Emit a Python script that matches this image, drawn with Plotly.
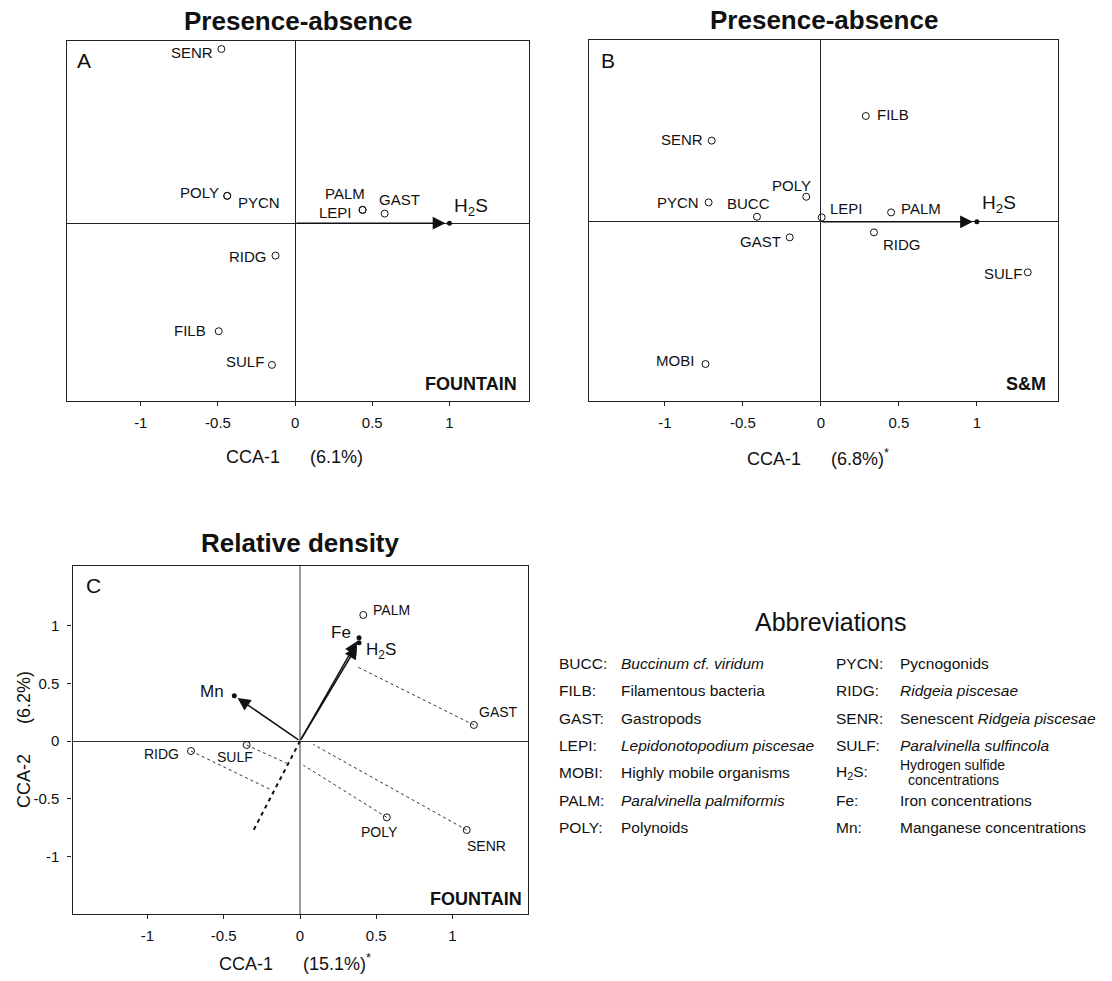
import plotly.graph_objects as go

W, H = 1112, 981
FONT = "Liberation Sans, Arial, Helvetica, sans-serif"
INK = "#111111"

# ---------------- data ----------------
tick_vals = [-1, -0.5, 0, 0.5, 1]
tick_text = ["-1", "-0.5", "0", "0.5", "1"]

# Panel A : presence-absence, FOUNTAIN
A_species = ["SENR", "POLY", "PYCN", "PALM", "LEPI", "GAST", "RIDG", "FILB", "SULF"]
A_x = [-0.478, -0.44, -0.44, 0.437, 0.437, 0.58, -0.127, -0.495, -0.15]
A_y = [1.128, 0.177, 0.177, 0.086, 0.086, 0.062, -0.21, -0.70, -0.918]
A_env = ["H2S"]
A_env_x = [1.0]
A_env_y = [0.0]

# Panel B : presence-absence, S&M
B_species = ["FILB", "SENR", "POLY", "PYCN", "BUCC", "LEPI", "PALM", "GAST", "RIDG", "SULF", "MOBI"]
B_x = [0.288, -0.70, -0.094, -0.72, -0.41, 0.005, 0.45, -0.20, 0.34, 1.326, -0.74]
B_y = [0.678, 0.52, 0.16, 0.124, 0.032, 0.028, 0.06, -0.10, -0.068, -0.324, -0.912]
B_env = ["H2S"]
B_env_x = [1.0]
B_env_y = [0.0]

# Panel C : relative density, FOUNTAIN
C_species = ["PALM", "GAST", "POLY", "SENR", "RIDG", "SULF"]
C_x = [0.415, 1.14, 0.569, 1.093, -0.715, -0.35]
C_y = [1.093, 0.139, -0.662, -0.772, -0.087, -0.035]
C_env = ["Fe", "H2S", "Mn"]
C_env_x = [0.387, 0.387, -0.431]
C_env_y = [0.896, 0.853, 0.393]
# projections of species onto the H2S axis (dashed)
C_proj_from = ["GAST", "SENR", "POLY", "SULF", "RIDG"]
C_proj_x = [0.374, 0.087, 0.022, -0.087, -0.197]
C_proj_y = [0.644, -0.03, -0.21, -0.193, -0.419]
# backward extension of the H2S axis
C_ext_x = [0.0, -0.307]
C_ext_y = [0.0, -0.779]

# Abbreviation table
abbr_left_keys = ["BUCC:", "FILB:", "GAST:", "LEPI:", "MOBI:", "PALM:", "POLY:"]
abbr_left_desc = ["<i>Buccinum cf. viridum</i>", "Filamentous bacteria", "Gastropods",
                  "<i>Lepidonotopodium piscesae</i>", "Highly mobile organisms",
                  "<i>Paralvinella palmiformis</i>", "Polynoids"]
abbr_right_keys = ["PYCN:", "RIDG:", "SENR:", "SULF:", "H<sub>2</sub>S:", "Fe:", "Mn:"]
abbr_right_desc = ["Pycnogonids", "<i>Ridgeia piscesae</i>", "Senescent <i>Ridgeia piscesae</i>",
                   "<i>Paralvinella sulfincola</i>", "Hydrogen sulfide", "Iron concentrations",
                   "Manganese concentrations"]
abbr_right_desc2 = ["", "", "", "", "concentrations", "", ""]

label_map = {"H2S": "H<sub>2</sub>S"}

# ---------------- styling / positions (pixels) ----------------
def px(x):
    return x / W

def py(y):
    return 1 - y / H

A_off = {"SENR": ("right", -6, -3), "POLY": ("right", -6, 3.5), "PYCN": ("left", 9, -6.5),
         "PALM": ("center", -18, 16), "LEPI": ("right", -9, -2.5), "GAST": ("left", -8, 13.7),
         "RIDG": ("right", -7, -1), "FILB": ("right", -11, 1), "SULF": ("right", -6, 3.3)}
A_env_off = {"H2S": ("left", 3, 16)}
B_off = {"FILB": ("left", 9, 1), "SENR": ("right", -7, 0.7), "POLY": ("center", -15, 11.7),
         "PYCN": ("right", -8, 0), "BUCC": ("center", -8.6, 13), "LEPI": ("left", 6.6, 9),
         "PALM": ("left", 8, 4), "GAST": ("right", -7, -4.4), "RIDG": ("left", 7, -11.7),
         "SULF": ("right", -4, -1), "MOBI": ("right", -10, 4)}
B_env_off = {"H2S": ("left", 3.6, 17.7)}
C_off = {"PALM": ("left", 8, 5), "GAST": ("left", 3, 13.3), "POLY": ("center", -7, -14.7),
         "SENR": ("left", -2, -15.8), "RIDG": ("right", -10, -3.3), "SULF": ("center", -12, -11.7)}
C_env_off = {"Fe": ("right", -6, 4.7), "H2S": ("left", 5, -8.3), "Mn": ("right", -8, 4)}

fig = go.Figure()


def add_points(xs, ys, xa, ya):
    fig.add_trace(go.Scatter(x=xs, y=ys, mode="markers", xaxis=xa, yaxis=ya,
                             marker=dict(symbol="circle-open", size=7, color=INK,
                                         line=dict(width=1, color=INK)),
                             hoverinfo="skip"))


def add_env(xs, ys, xa, ya):
    fig.add_trace(go.Scatter(x=xs, y=ys, mode="markers", xaxis=xa, yaxis=ya,
                             marker=dict(symbol="circle", size=5, color=INK),
                             hoverinfo="skip"))
    for ex, ey in zip(xs, ys):
        fig.add_annotation(x=ex, y=ey, ax=0, ay=0, xref=xa, yref=ya, axref=xa, ayref=ya,
                           text="", showarrow=True, arrowhead=2, arrowsize=1.7,
                           arrowwidth=1.5, arrowcolor=INK, standoff=4)


def add_labels(names, xs, ys, offs, xr, yr, size):
    for n, x, y in zip(names, xs, ys):
        anc, dx, dy = offs[n]
        fig.add_annotation(x=x, y=y, xref=xr, yref=yr, text=label_map.get(n, n),
                           showarrow=False, xanchor=anc, yanchor="middle",
                           xshift=dx, yshift=dy, font=dict(size=size, color=INK, family=FONT))


# Panel A
add_points(A_x, A_y, "x", "y")
add_env(A_env_x, A_env_y, "x", "y")
add_labels(A_species, A_x, A_y, A_off, "x", "y", 15)
add_labels(A_env, A_env_x, A_env_y, A_env_off, "x", "y", 19)

# Panel B
add_points(B_x, B_y, "x2", "y2")
add_env(B_env_x, B_env_y, "x2", "y2")
add_labels(B_species, B_x, B_y, B_off, "x2", "y2", 15)
add_labels(B_env, B_env_x, B_env_y, B_env_off, "x2", "y2", 19)

# Panel C dashed projections
lx, ly = [], []
for n, fx, fy in zip(C_proj_from, C_proj_x, C_proj_y):
    i = C_species.index(n)
    lx += [C_x[i], fx, None]
    ly += [C_y[i], fy, None]
fig.add_trace(go.Scatter(x=lx, y=ly, mode="lines", xaxis="x3", yaxis="y3",
                         line=dict(color="#333333", width=1, dash="3px,3px"), hoverinfo="skip"))
fig.add_trace(go.Scatter(x=C_ext_x, y=C_ext_y, mode="lines", xaxis="x3", yaxis="y3",
                         line=dict(color=INK, width=2, dash="4px,4px"), hoverinfo="skip"))
add_points(C_x, C_y, "x3", "y3")
add_env(C_env_x, C_env_y, "x3", "y3")
add_labels(C_species, C_x, C_y, C_off, "x3", "y3", 14)
add_labels(C_env, C_env_x, C_env_y, C_env_off, "x3", "y3", 17)

# ---------------- axes ----------------
def xaxis_cfg(dom, anchor, rng, zc="#222222", zw=1):
    return dict(domain=dom, anchor=anchor, range=rng, showgrid=False, zeroline=True,
                zerolinecolor=zc, zerolinewidth=zw, showline=True, mirror=True,
                linecolor="#222222", linewidth=1.2, ticks="outside", ticklen=4,
                tickcolor="#222222", tickvals=tick_vals, ticktext=tick_text,
                tickfont=dict(size=15, color=INK, family=FONT), ticklabelstandoff=4,
                fixedrange=True)


def yaxis_cfg(dom, anchor, rng, show, zc="#222222", zw=1):
    d = dict(domain=dom, anchor=anchor, range=rng, showgrid=False, zeroline=True,
             zerolinecolor=zc, zerolinewidth=zw, showline=True, mirror=True,
             linecolor="#222222", linewidth=1.2, fixedrange=True)
    if show:
        d.update(ticks="outside", ticklen=4, tickcolor="#222222", tickvals=tick_vals,
                 ticktext=tick_text, tickfont=dict(size=15, color=INK, family=FONT),
                 ticklabelstandoff=5)
    else:
        d.update(showticklabels=False, ticks="")
    return d


fig.update_layout(
    width=W, height=H, margin=dict(l=0, r=0, t=0, b=0),
    paper_bgcolor="white", plot_bgcolor="white", showlegend=False,
    font=dict(family=FONT, color=INK),
    xaxis=xaxis_cfg([px(66.5), px(528.6)], "y", [-1.4815, 1.513]),
    yaxis=yaxis_cfg([py(400.7), py(41)], "x", [-1.15, 1.18], False),
    xaxis2=xaxis_cfg([px(589.3), px(1058)], "y2", [-1.485, 1.52]),
    yaxis2=yaxis_cfg([py(400.7), py(40)], "x2", [-1.147, 1.165], False),
    xaxis3=xaxis_cfg([px(72.5), px(528)], "y3", [-1.492, 1.495], zc="#9a9a9a", zw=1.5),
    yaxis3=yaxis_cfg([py(914), py(565.7)], "x3", [-1.5, 1.52], True, zc="#333333", zw=1),
)

# ---------------- texts ----------------
def ptext(text, x, y, size, anchor="center", bold=False, angle=0):
    if bold:
        text = "<b>" + text + "</b>"
    fig.add_annotation(x=px(x), y=py(y), xref="paper", yref="paper", text=text,
                       showarrow=False, xanchor=anchor, yanchor="middle", textangle=angle,
                       borderpad=0, font=dict(size=size, color=INK, family=FONT))


sp = "\u00a0" * 6
ptext("Presence-absence", 297.6, 21, 26, bold=True)
ptext("Presence-absence", 823.7, 20, 26, bold=True)
ptext("Relative density", 300.4, 543, 26, bold=True)
ptext("A", 76.4, 60.5, 21, anchor="left")
ptext("B", 600, 60.5, 21, anchor="left")
ptext("C", 85.4, 585, 21, anchor="left")
ptext("FOUNTAIN", 518.2, 384, 18, anchor="right", bold=True)
ptext("S&amp;M", 1047, 384, 18, anchor="right", bold=True)
ptext("FOUNTAIN", 523.4, 899, 18, anchor="right", bold=True)
ptext("CCA-1" + sp + "(6.1%)", 294.7, 457, 18)
ptext("CCA-1" + sp + "(6.8%)<sup>*</sup>", 818, 457, 18)
ptext("CCA-1" + sp + "(15.1%)<sup>*</sup>", 294.5, 962, 18)
ptext("CCA-2" + sp + "(6.2%)", 24, 740, 18, angle=-90)

ptext("Abbreviations", 830, 622, 25)
rows_y = [663.3, 690, 718.3, 745.7, 772.7, 800, 827.3]
for k, d, yy in zip(abbr_left_keys, abbr_left_desc, rows_y):
    ptext(k, 558, yy, 15.5, anchor="left")
    ptext(d, 620, yy, 15.5, anchor="left")
for k, d, d2, yy in zip(abbr_right_keys, abbr_right_desc, abbr_right_desc2, rows_y):
    ptext(k, 835, yy, 15.5, anchor="left")
    if d2:
        ptext(d, 899, yy - 7.5, 14, anchor="left")
        ptext(d2, 906.7, yy + 7.5, 14, anchor="left")
    else:
        ptext(d, 899, yy, 15.5, anchor="left")

fig.write_html("out.html")
